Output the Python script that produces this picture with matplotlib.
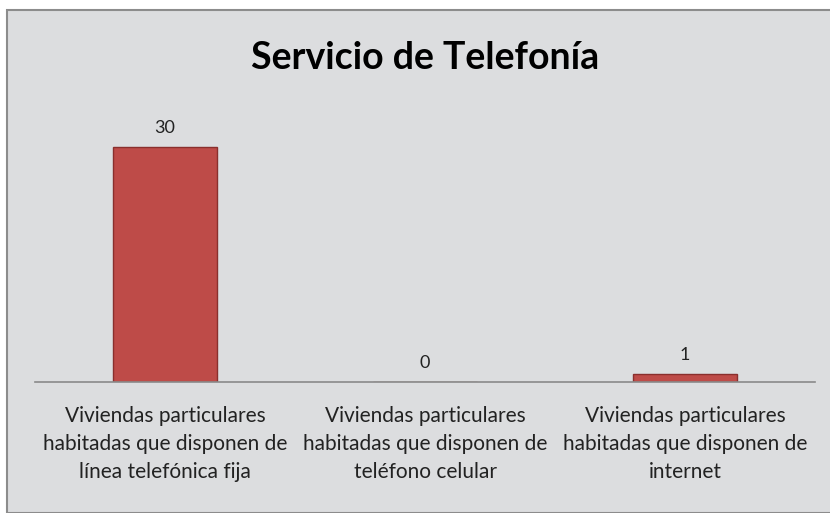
import matplotlib.pyplot as plt
from matplotlib.patches import Rectangle

# datos
categorias = [
    'Viviendas particulares\nhabitadas que disponen de\nlínea telefónica fija',
    'Viviendas particulares\nhabitadas que disponen de\nteléfono celular',
    'Viviendas particulares\nhabitadas que disponen de\ninternet',
]
valores = [30, 0, 1]
titulo = 'Servicio de Telefonía'

plt.rcParams['font.family'] = ['Lato', 'DejaVu Sans']

W, H = 830, 513
fig = plt.figure(figsize=(W / 100, H / 100), dpi=100)
fig.patch.set_facecolor('white')

# marco gris del gráfico
fig.patches.append(Rectangle((7 / W, 0), 1.0, 1 - 10 / H, transform=fig.transFigure,
                             facecolor='#DCDDDF', edgecolor='#8C8C8C', linewidth=1.5,
                             zorder=-1))

ax = fig.add_axes([35 / W, 131 / H, 780 / W, 274 / H])
ax.set_zorder(2)
ax.set_facecolor('none')
x = range(len(categorias))
bars = ax.bar(x, valores, width=0.4, color='#BE4B48', edgecolor='#8A2F2D', linewidth=1.0)
for b, v in zip(bars, valores):
    ax.annotate(str(v), (b.get_x() + b.get_width() / 2, b.get_height()),
                xytext=(0, 8), textcoords='offset points', ha='center', va='bottom',
                fontsize=13, color='#222222')

ax.set_xlim(-0.5, 2.5)
ax.set_ylim(0, 35)
ax.set_yticks([])
ax.set_xticks(list(x))
ax.set_xticklabels(categorias, fontsize=15, color='#222222', linespacing=1.5)
ax.tick_params(axis='x', length=0, pad=17)
for s in ['top', 'right', 'left']:
    ax.spines[s].set_visible(False)
ax.spines['bottom'].set_color('#8A8A8A')
ax.spines['bottom'].set_linewidth(1.2)

fig.text(425 / W, 1 - 58 / H, titulo, ha='center', va='center', fontsize=27,
         fontweight='bold', color='black', zorder=3)

fig.savefig('out.png', dpi=100)
